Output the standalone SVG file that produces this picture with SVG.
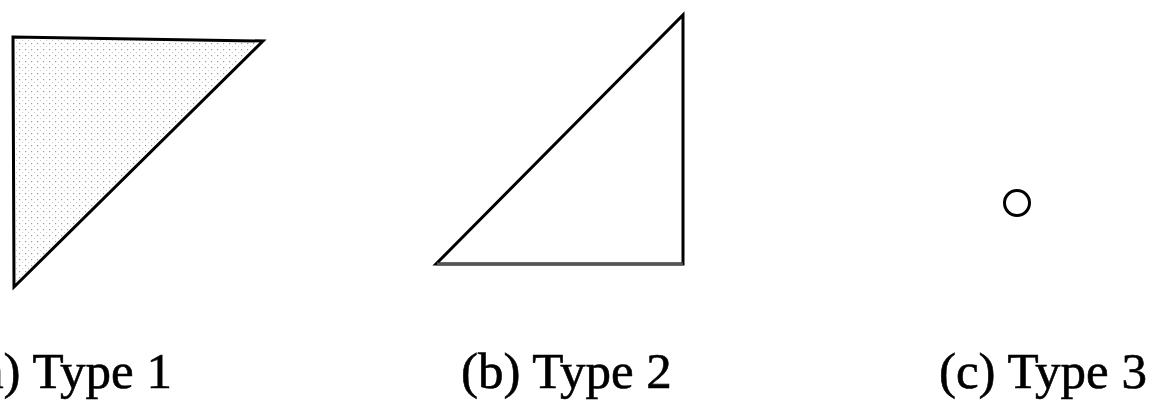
<svg xmlns="http://www.w3.org/2000/svg" width="1153" height="406" viewBox="0 0 1153 406">
  <style>
    .shape { stroke: #000; stroke-width: 3; stroke-linejoin: miter; }
    .label { font-family: "Liberation Serif", "Times New Roman", serif; font-size: 51px; fill: #000; stroke: #000; stroke-width: 0.6; }
  </style>
  <defs>
    <pattern id="dots" width="6" height="6" patternUnits="userSpaceOnUse">
      <rect width="6" height="6" fill="#fff"/>
      <rect x="1" y="1" width="1.2" height="1.2" fill="#9a9a9a"/>
      <rect x="4" y="4" width="1" height="1" fill="#c8c8c8"/>
    </pattern>
  </defs>
  <rect width="1153" height="406" fill="#fff"/>
  <g id="type1">
    <polygon class="shape" points="13,37 263,41 14,287" fill="url(#dots)"/>
    <text class="label" x="-36" y="388">(a) Type 1</text>
  </g>
  <g id="type2">
    <polygon class="shape" points="683,15 683,264 436,264" fill="#fff"/>
    <line x1="437" y1="264" x2="683" y2="264" stroke="#555" stroke-width="3"/>
    <text class="label" x="461" y="388">(b) Type 2</text>
  </g>
  <g id="type3">
    <circle class="shape" cx="1017" cy="203" r="12.5" fill="#fff" stroke-width="2.5"/>
    <text class="label" x="939" y="388">(c) Type 3</text>
  </g>
  <g id="connectors"></g>
</svg>
